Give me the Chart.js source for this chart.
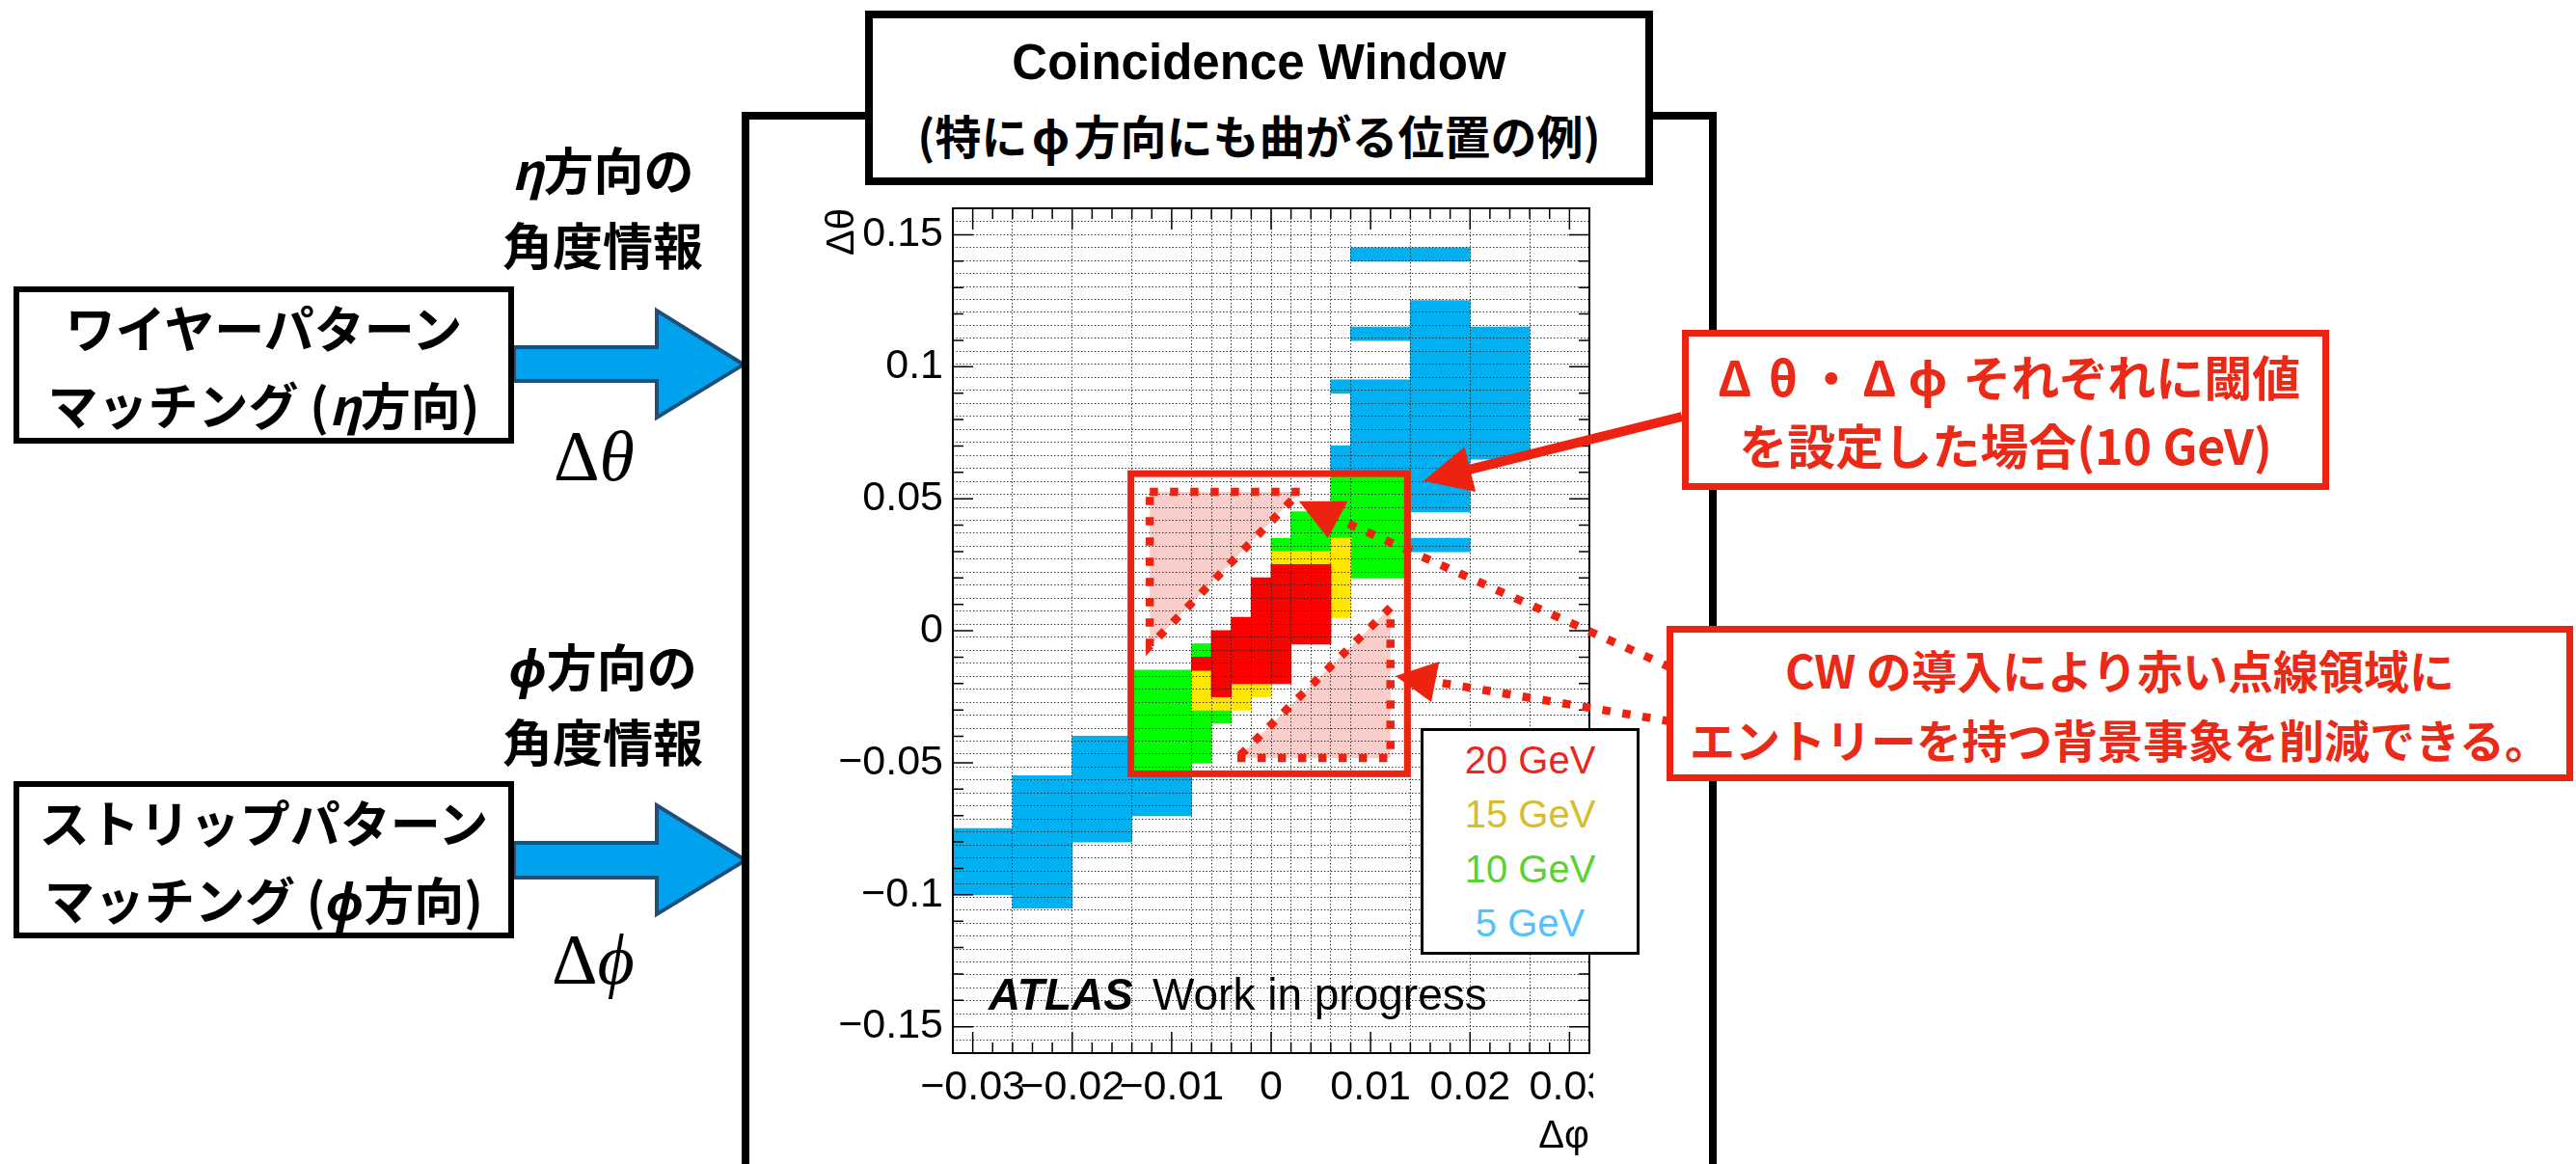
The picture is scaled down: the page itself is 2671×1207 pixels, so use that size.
<!DOCTYPE html>
<html lang="ja">
<head>
<meta charset="utf-8">
<title>Coincidence Window</title>
<script src="https://cdn.jsdelivr.net/npm/chart.js@4.4.1/dist/chart.umd.min.js"></script>
<style>
  html, body { margin: 0; padding: 0; background: #fff; }
  body { position: relative; width: 2671px; height: 1207px; overflow: hidden;
         font-family: "Noto Sans CJK JP", "Noto Sans", sans-serif; color: #000; }
  #cw { position: absolute; left: 0; top: 0; }
  .abs { position: absolute; box-sizing: border-box; white-space: nowrap; }
  .box { background: #fff; display: flex; flex-direction: column; justify-content: center;
         align-items: center; font-weight: 700; }
  .frame { left: 769px; top: 116px; width: 1011px; height: 1200px; border: 8px solid #000; border-bottom: none; }
  .title { left: 897px; top: 11px; width: 817px; height: 181px; border: 8px solid #000;
           font-size: 48px; line-height: 74px; }
  .title .latin { font-family: "Liberation Sans", Arial, sans-serif; font-size: 51px; }
  .black { left: 14px; width: 519px; height: 163px; border: 6px solid #000; font-size: 52px; line-height: 80px; }
  .note { left: 500px; width: 250px; text-align: center; font-weight: 700; font-size: 52px; line-height: 78px; }
  .greek { font-family: "Liberation Serif", "DejaVu Serif", serif; font-size: 74px; line-height: 74px; }
  .red { border: 7px solid #ee2211; color: #ea2a17; }
  .fw { display: inline-block; width: 1em; text-align: center; }
  .legend { left: 1473px; top: 755px; width: 227px; height: 235px; border: 3px solid #000; background: #fff;
            display: flex; flex-direction: column; justify-content: center; align-items: center;
            font-family: "Liberation Sans", Arial, sans-serif; font-size: 40px; line-height: 56.5px; }
</style>
</head>
<body>
<canvas id="cw" width="2671" height="1207"></canvas>

<svg class="abs" style="left:0;top:0" width="2671" height="1207">
  <polygon points="533,360 681,360 681,322 771,378 681,433 681,395 533,395"
           fill="#00a2ee" stroke="#1f4e79" stroke-width="4"/>
  <polygon points="533,874 681,874 681,835 773,892 681,948 681,910 533,910"
           fill="#00a2ee" stroke="#1f4e79" stroke-width="4"/>
</svg>

<div class="abs frame"></div>
<div class="abs box title"><div class="latin">Coincidence Window</div><div>(特に<span class="fw">ϕ</span>方向にも曲がる位置の例)</div></div>

<div class="abs note" style="top:136px"><div><i>η</i>方向の</div><div>角度情報</div></div>
<div class="abs box black" style="top:297px"><div>ワイヤーパターン</div><div>マッチング (<i>η</i>方向)</div></div>
<div class="abs greek" style="left:574px;top:436px">Δ<i>θ</i></div>

<div class="abs note" style="top:651px"><div><i>ϕ</i>方向の</div><div>角度情報</div></div>
<div class="abs box black" style="top:810px"><div>ストリップパターン</div><div>マッチング (<i>ϕ</i>方向)</div></div>
<div class="abs greek" style="left:572px;top:958px">Δ<i>ϕ</i></div>

<div class="abs box red" style="left:1744px;top:342px;width:671px;height:166px;font-size:50px;line-height:71px">
  <div><span class="fw">Δ</span><span class="fw">θ</span>・<span class="fw">Δ</span><span class="fw">ϕ</span> それぞれに閾値</div>
  <div>を設定した場合(10 GeV)</div>
</div>
<div class="abs box red" style="left:1728px;top:649px;width:940px;height:161px;font-size:47px;line-height:72px">
  <div>CW の導入により赤い点線領域に</div>
  <div>エントリーを持つ背景事象を削減できる。</div>
</div>

<div class="abs legend" id="legend"></div>

<script>
// Δφ bin edges (coarse outside, 0.002 wide in the centre)
const phiEdges = [-0.032, -0.026, -0.020, -0.014, -0.008, -0.006, -0.004, -0.002, 0,
                  0.002, 0.004, 0.006, 0.008, 0.014, 0.020, 0.026, 0.032];
const thetaStep = 0.005;

// tick labels
const xLabelTicks = [-0.03, -0.02, -0.01, 0, 0.01, 0.02, 0.03];
const yLabelTicks = [-0.15, -0.1, -0.05, 0, 0.05, 0.1, 0.15];

// pT thresholds and colours
const thresholds = ['20 GeV', '15 GeV', '10 GeV', '5 GeV'];
const cellColors = ['#ff0000', '#ffe600', '#00ff00', '#00b0f0'];
const legendColors = ['#e8281e', '#d6bd2c', '#5ad232', '#52c2f8'];

// filled cells of the window: [Δθ lower edge, Δφ from, Δφ to]
const cells20 = [
  [0.020, 0, 0.006], [0.015, -0.002, 0.006], [0.010, -0.002, 0.006], [0.005, -0.002, 0.006],
  [0.000, -0.004, 0.006], [-0.005, -0.006, 0.006], [-0.010, -0.006, 0.002],
  [-0.015, -0.008, 0.002], [-0.020, -0.006, 0.002], [-0.025, -0.006, -0.004]
];
const cells15 = [
  [0.030, 0.006, 0.008], [0.025, 0, 0.008], [0.020, 0.006, 0.008], [0.015, 0.006, 0.008],
  [0.010, 0.006, 0.008], [0.005, 0.006, 0.008], [-0.020, -0.008, -0.006],
  [-0.025, -0.008, -0.006], [-0.025, -0.004, 0], [-0.030, -0.008, -0.002]
];
const cells10 = [
  [0.055, 0.006, 0.014], [0.050, 0.006, 0.014], [0.045, 0.006, 0.014], [0.040, 0.002, 0.014],
  [0.035, 0.002, 0.014], [0.030, 0, 0.006], [0.030, 0.008, 0.014], [0.025, 0.008, 0.014],
  [0.020, 0.008, 0.014], [-0.010, -0.008, -0.006], [-0.020, -0.014, -0.008],
  [-0.025, -0.014, -0.008], [-0.030, -0.014, -0.008], [-0.035, -0.014, -0.004],
  [-0.040, -0.014, -0.006], [-0.045, -0.014, -0.006], [-0.050, -0.014, -0.006],
  [-0.055, -0.014, -0.008]
];
const cells5 = [
  [0.140, 0.008, 0.020], [0.120, 0.014, 0.020], [0.115, 0.014, 0.020], [0.110, 0.008, 0.026],
  [0.105, 0.014, 0.026], [0.100, 0.014, 0.026], [0.095, 0.014, 0.026], [0.090, 0.006, 0.026],
  [0.085, 0.008, 0.026], [0.080, 0.008, 0.026], [0.075, 0.008, 0.026], [0.070, 0.008, 0.026],
  [0.065, 0.006, 0.026], [0.060, 0.006, 0.020], [0.055, 0.014, 0.020], [0.050, 0.014, 0.020],
  [0.045, 0.014, 0.020], [0.030, 0.014, 0.020],
  [-0.045, -0.020, -0.014], [-0.050, -0.020, -0.014], [-0.055, -0.020, -0.014],
  [-0.060, -0.026, -0.008], [-0.065, -0.026, -0.008], [-0.070, -0.026, -0.008],
  [-0.075, -0.026, -0.014], [-0.080, -0.032, -0.014], [-0.085, -0.032, -0.020],
  [-0.090, -0.032, -0.020], [-0.095, -0.032, -0.020], [-0.100, -0.032, -0.020],
  [-0.105, -0.026, -0.020]
];

// --- annotations, in (Δφ, Δθ) units ---
const cutBox = { phi: [-0.0141, 0.0137], theta: [-0.0542, 0.0595] };
const cutTriangles = [
  [[-0.0122, 0.0526], [0.0029, 0.0526], [-0.0122, -0.0058]],
  [[-0.0034, -0.0482], [0.0120, -0.0482], [0.0120, 0.0088]]
];
const RED = '#ee2211';

const fmt = v => (v < 0 ? '\u2212' : '') + String(+Math.abs(v).toFixed(3));

const toCells = list => list.map(([t, a, b]) => ({ y: t + thetaStep / 2, x: [a, b] }));
const allCells = [cells20, cells15, cells10, cells5];

// legend box
const legendEl = document.getElementById('legend');
thresholds.forEach((t, i) => {
  const d = document.createElement('div');
  d.textContent = t;
  d.style.color = legendColors[i];
  legendEl.appendChild(d);
});

function tracePath(chart, pts) {
  const { x, y } = chart.scales;
  const ctx = chart.ctx;
  ctx.beginPath();
  pts.forEach(([p, t], i) => {
    const px = x.getPixelForValue(p), py = y.getPixelForValue(t);
    if (i === 0) ctx.moveTo(px, py); else ctx.lineTo(px, py);
  });
  ctx.closePath();
}

function toPx(chart, p, t) {
  return [chart.scales.x.getPixelForValue(p), chart.scales.y.getPixelForValue(t)];
}

const annotations = {
  id: 'cwAnnotations',
  afterDatasetsDraw(chart) {
    const ctx = chart.ctx;
    ctx.save();
    ctx.fillStyle = '#f9cdc9';
    cutTriangles.forEach(tri => { tracePath(chart, tri); ctx.fill(); });
    ctx.restore();
  },
  afterDraw(chart) {
    const { ctx, chartArea: area, scales: { x, y } } = chart;
    ctx.save();

    // the pad edge cuts the last Δφ label
    ctx.clearRect(area.right + 4, area.bottom + 2, 120, 80);

    // ROOT style ticks on all four sides
    ctx.strokeStyle = '#000';
    ctx.lineWidth = 1.5;
    ctx.beginPath();
    for (let k = -15; k <= 15; k++) {
      const px = x.getPixelForValue(k * 0.002);
      const len = k % 5 === 0 ? 22 : 11;
      ctx.moveTo(px, area.bottom); ctx.lineTo(px, area.bottom - len);
      ctx.moveTo(px, area.top); ctx.lineTo(px, area.top + len);
    }
    for (let k = -15; k <= 15; k++) {
      const py = y.getPixelForValue(k * 0.01);
      const len = k % 5 === 0 ? 21 : 11;
      ctx.moveTo(area.left, py); ctx.lineTo(area.left + len, py);
      ctx.moveTo(area.right, py); ctx.lineTo(area.right - len, py);
    }
    ctx.stroke();
    ctx.lineWidth = 2;
    ctx.strokeRect(area.left, area.top, area.right - area.left, area.bottom - area.top);

    // ATLAS label
    ctx.fillStyle = '#000';
    ctx.textBaseline = 'alphabetic';
    const lx = area.left + 37, ly = area.top + 831;
    ctx.font = 'italic bold 46px "Liberation Sans", Arial, sans-serif';
    ctx.fillText('ATLAS', lx, ly);
    const w = ctx.measureText('ATLAS').width;
    ctx.font = '46px "Liberation Sans", Arial, sans-serif';
    ctx.fillText('Work in progress', lx + w + 20, ly);

    // cut box for 10 GeV
    ctx.strokeStyle = RED;
    ctx.lineWidth = 7;
    const [bx0, by0] = toPx(chart, cutBox.phi[0], cutBox.theta[1]);
    const [bx1, by1] = toPx(chart, cutBox.phi[1], cutBox.theta[0]);
    ctx.strokeRect(bx0, by0, bx1 - bx0, by1 - by0);

    // dotted triangles
    ctx.lineWidth = 8.5;
    ctx.setLineDash([8.5, 12.5]);
    cutTriangles.forEach(tri => { tracePath(chart, tri); ctx.stroke(); });

    // dotted pointers from the lower note
    ctx.beginPath();
    ctx.moveTo(1732, 692); ctx.lineTo(...toPx(chart, 0.0073, 0.0413));
    ctx.moveTo(1732, 748); ctx.lineTo(...toPx(chart, 0.0165, -0.0194));
    ctx.stroke();
    ctx.setLineDash([]);
    ctx.fillStyle = RED;
    tracePath(chart, [[0.0028, 0.0490], [0.0077, 0.0490], [0.0057, 0.0351]]); ctx.fill();
    tracePath(chart, [[0.0125, -0.0172], [0.0169, -0.0117], [0.0161, -0.0270]]); ctx.fill();

    // solid arrow from the upper note
    const [tx, ty] = toPx(chart, 0.0153, 0.0567);
    const sx = 1744, sy = 432;
    const d = Math.hypot(tx - sx, ty - sy), ux = (tx - sx) / d, uy = (ty - sy) / d;
    ctx.lineWidth = 10;
    ctx.beginPath();
    ctx.moveTo(sx, sy); ctx.lineTo(tx - ux * 40, ty - uy * 40);
    ctx.stroke();
    ctx.beginPath();
    ctx.moveTo(tx, ty);
    ctx.lineTo(tx - ux * 50 - uy * 24, ty - uy * 50 + ux * 24);
    ctx.lineTo(tx - ux * 50 + uy * 24, ty - uy * 50 - ux * 24);
    ctx.closePath();
    ctx.fill();

    ctx.restore();
  }
};

Chart.defaults.font.family = '"Liberation Sans", Arial, sans-serif';
Chart.defaults.color = '#000';

const gridLines = (axisMin, n, step) => {
  const out = [];
  for (let k = 1; k < n; k++) out.push(+(axisMin + k * step).toFixed(4));
  return out;
};

new Chart(document.getElementById('cw'), {
  type: 'bar',
  data: {
    datasets: allCells.map((list, i) => ({
      label: thresholds[i],
      data: toCells(list),
      backgroundColor: cellColors[i],
      borderWidth: 0,
      inflateAmount: 0.5,
      grouped: false,
      barPercentage: 1,
      categoryPercentage: 1,
      xAxisID: 'x',
      yAxisID: 'y'
    }))
  },
  options: {
    indexAxis: 'y',
    responsive: false,
    animation: false,
    events: [],
    devicePixelRatio: 1,
    layout: { padding: { left: 850, top: 216, right: 1023, bottom: 0 } },
    plugins: { legend: { display: false }, tooltip: { enabled: false } },
    scales: {
      x: {
        type: 'linear', position: 'bottom', min: -0.032, max: 0.032, offset: false,
        afterBuildTicks: s => { s.ticks = xLabelTicks.map(v => ({ value: v })); },
        afterFit: s => { s.height = 115; },
        grid: { display: false, drawTicks: false },
        border: { display: false },
        ticks: { autoSkip: false, maxRotation: 0, minRotation: 0, padding: 10,
                 font: { size: 43 }, callback: v => fmt(v) },
        title: { display: true, text: 'Δφ', align: 'end', font: { size: 40 },
                 padding: { top: 0, bottom: 4 } }
      },
      y: {
        type: 'linear', position: 'left', min: -0.16, max: 0.16, offset: false,
        afterBuildTicks: s => { s.ticks = yLabelTicks.map(v => ({ value: v })); },
        afterFit: s => { s.width = 138; },
        grid: { display: false, drawTicks: false, offset: false },
        border: { display: false },
        ticks: { autoSkip: false, padding: 10, font: { size: 43 }, callback: v => fmt(v) },
        title: { display: true, text: 'Δθ', align: 'end', font: { size: 40 },
                 padding: { top: 0, bottom: 0 } }
      },
      xg: {
        type: 'linear', position: 'bottom', min: -0.032, max: 0.032,
        afterBuildTicks: s => { s.ticks = phiEdges.slice(1, -1).map(v => ({ value: v })); },
        afterFit: s => { s.height = 0; },
        ticks: { display: false },
        grid: { drawTicks: false, color: '#222', lineWidth: 1, z: 1 },
        border: { display: false, dash: [1.3, 2.2] }
      },
      yg: {
        type: 'linear', position: 'left', min: -0.16, max: 0.16,
        afterBuildTicks: s => { s.ticks = gridLines(-0.16, 64, thetaStep).map(v => ({ value: v })); },
        afterFit: s => { s.width = 0; },
        ticks: { display: false },
        grid: { drawTicks: false, color: '#222', lineWidth: 1, z: 1 },
        border: { display: false, dash: [1.3, 2.2] }
      }
    }
  },
  plugins: [annotations]
});
</script>
</body>
</html>
